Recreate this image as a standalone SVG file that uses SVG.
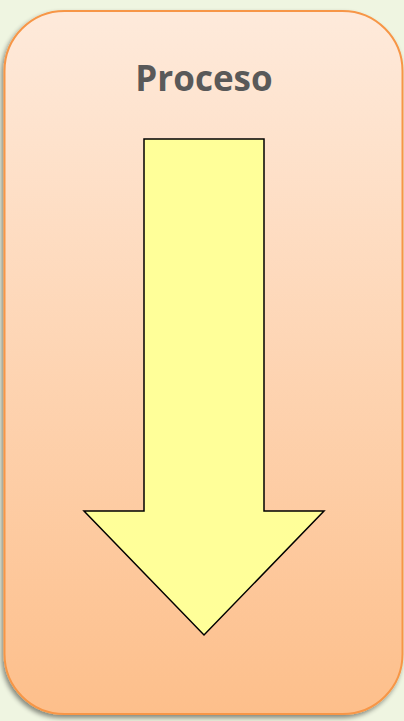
<svg xmlns="http://www.w3.org/2000/svg" width="404" height="721" viewBox="0 0 404 721">
<defs>
<linearGradient id="g" x1="0" y1="0" x2="0" y2="1">
<stop offset="0" stop-color="#FEEADB"/>
<stop offset="1" stop-color="#FDBF8B"/>
</linearGradient>
<filter id="sh" x="-10%" y="-10%" width="120%" height="120%">
<feGaussianBlur in="SourceAlpha" stdDeviation="2.5"/>
<feOffset dx="-2" dy="3" result="b"/>
<feComponentTransfer><feFuncA type="linear" slope="0.45"/></feComponentTransfer>
<feMerge><feMergeNode/><feMergeNode in="SourceGraphic"/></feMerge>
</filter>
<style>
.lbl{font-family:"Open Sans","Liberation Sans",sans-serif;font-weight:bold;font-size:35px;fill:#595959}
</style>
</defs>
<rect width="404" height="721" fill="#EFF5E1"/>
<g id="proceso">
<rect x="4.5" y="11" width="398" height="703" rx="60" ry="60" fill="url(#g)" stroke="#F79646" stroke-width="2" filter="url(#sh)"/>
<text class="lbl" x="204" y="91" text-anchor="middle">Proceso</text>
</g>
<g id="arrow">
<polygon points="144,139 264,139 264,511 324,511 204,635 84,511 144,511" fill="#FFFF99" stroke="#000" stroke-width="1.5" stroke-linejoin="miter"/>
</g>
</svg>
